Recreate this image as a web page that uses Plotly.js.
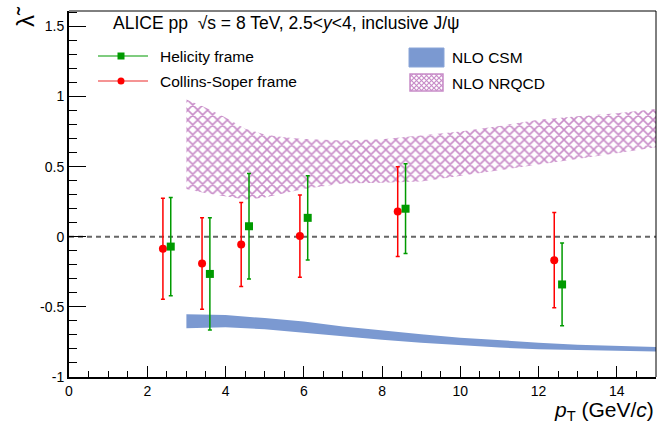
<!DOCTYPE html>
<html>
<head>
<meta charset="utf-8">
<script src="https://cdn.plot.ly/plotly-3.0.1.min.js"></script>
<style>html,body{margin:0;padding:0;background:#fff;}#chart{width:657px;height:425px;}</style>
</head>
<body>
<div id="chart"></div>
<script>
// ---- data ----
const pTHelicity = [2.6, 3.6, 4.6, 6.1, 8.6, 12.6];
const lamHelicity = [-0.07, -0.265, 0.075, 0.135, 0.20, -0.34];
const errHelicity = [0.35, 0.40, 0.377, 0.30, 0.32, 0.295];

const pTCS = [2.4, 3.4, 4.4, 5.9, 8.4, 12.4];
const lamCS = [-0.085, -0.19, -0.055, 0.005, 0.18, -0.167];
const errCS = [0.36, 0.326, 0.30, 0.293, 0.32, 0.34];

const csmX = [3, 4, 5, 6, 7, 8, 9, 10, 11, 12, 13, 14, 15];
const csmHigh = [-0.552, -0.557, -0.58, -0.605, -0.64, -0.67, -0.695, -0.72, -0.74, -0.755, -0.77, -0.78, -0.786];
const csmLow = [-0.652, -0.645, -0.66, -0.683, -0.71, -0.735, -0.755, -0.775, -0.79, -0.802, -0.81, -0.815, -0.819];

const nrqcdX = [3, 3.5, 4, 4.5, 5, 5.5, 6, 7, 8, 9, 10, 11, 12, 13, 14, 15];
const nrqcdHigh = [0.979, 0.92, 0.85, 0.77, 0.73, 0.71, 0.698, 0.686, 0.695, 0.72, 0.75, 0.79, 0.835, 0.86, 0.88, 0.912];
const nrqcdLow = [0.34, 0.31, 0.285, 0.265, 0.28, 0.31, 0.34, 0.38, 0.385, 0.395, 0.43, 0.47, 0.515, 0.555, 0.595, 0.638];

const yTickVals = [-1, -0.5, 0, 0.5, 1, 1.5];
const yTickText = ['-1', '-0.5', '0', '0.5', '1', '1.5'];
const xTickVals = [0, 2, 4, 6, 8, 10, 12, 14];
const xTickText = ['0', '2', '4', '6', '8', '10', '12', '14'];

// ---- layout helpers ----
const W = 657, H = 425;
const L = 69, R = 656, T = 11, B = 377;
const px = v => (v - L) / (R - L);
const py = v => (B - v) / (B - T);
const FONT = 'Liberation Sans, Arial, sans-serif';
const GREEN = '#009a00', RED = '#ff0000', BLUE = '#7b99d1', PINK = '#c88cc8';

function band(xs, hi, lo) {
  return { x: xs.concat(xs.slice().reverse()), y: hi.concat(lo.slice().reverse()) };
}
const nb = band(nrqcdX, nrqcdHigh, nrqcdLow);
const cb = band(csmX, csmHigh, csmLow);

const traces = [
  { type: 'scatter', mode: 'lines', x: nb.x, y: nb.y, fill: 'toself', fillcolor: 'rgba(0,0,0,0)',
    fillpattern: { shape: 'x', fgcolor: PINK, bgcolor: 'rgba(255,255,255,0)', size: 7, solidity: 0.4 },
    line: { width: 0, color: PINK }, hoverinfo: 'skip', showlegend: false },
  { type: 'scatter', mode: 'lines', x: cb.x, y: cb.y, fill: 'toself', fillcolor: BLUE,
    line: { width: 0, color: BLUE }, hoverinfo: 'skip', showlegend: false },
  { type: 'scatter', mode: 'markers', x: pTCS, y: lamCS, name: 'Collins-Soper frame',
    marker: { symbol: 'circle', size: 8, color: RED },
    error_y: { type: 'data', array: errCS, visible: true, color: RED, thickness: 1.5, width: 2 },
    showlegend: false },
  { type: 'scatter', mode: 'markers', x: pTHelicity, y: lamHelicity, name: 'Helicity frame',
    marker: { symbol: 'square', size: 8, color: GREEN },
    error_y: { type: 'data', array: errHelicity, visible: true, color: GREEN, thickness: 1.5, width: 2 },
    showlegend: false }
];

const hatchSvg = "<svg xmlns='http://www.w3.org/2000/svg' width='35' height='19'><defs><pattern id='p' width='5' height='5' patternUnits='userSpaceOnUse'><path d='M0,0L5,5M5,0L0,5' stroke='" + PINK + "' stroke-width='1.2'/></pattern></defs><rect x='1' y='1' width='33' height='17' fill='url(#p)' stroke='" + PINK + "' stroke-width='1.5'/></svg>";

const txt = (text, x, y, size, anchor) => ({
  text: text, xref: 'paper', yref: 'paper', x: px(x), y: py(y), xanchor: anchor || 'left', yanchor: 'middle',
  showarrow: false, font: { family: FONT, size: size || 15, color: '#000' }
});

const layout = {
  width: W, height: H,
  margin: { l: L, r: W - R, t: T, b: H - B, pad: 0 },
  paper_bgcolor: '#fff', plot_bgcolor: '#fff',
  showlegend: false,
  font: { family: FONT, color: '#000' },
  xaxis: {
    range: [0, 15], showgrid: false, zeroline: false, showline: true, linecolor: '#000', linewidth: 2,
    ticks: 'inside', ticklen: 11, tickwidth: 1, tickcolor: '#000',
    tickvals: xTickVals, ticktext: xTickText, tickfont: { family: FONT, size: 14, color: '#000' },
    minor: { dtick: 0.5, ticks: 'inside', ticklen: 6, tickcolor: '#000', tickwidth: 1, showgrid: false },
    automargin: false, fixedrange: true
  },
  yaxis: {
    range: [-1, 1.61], showgrid: false, zeroline: false, showline: true, linecolor: '#000', linewidth: 2,
    ticks: 'inside', ticklen: 17, tickwidth: 1, tickcolor: '#000',
    tickvals: yTickVals, ticktext: yTickText, tickfont: { family: FONT, size: 14, color: '#000' },
    minor: { dtick: 0.1, ticks: 'inside', ticklen: 8, tickcolor: '#000', tickwidth: 1, showgrid: false },
    automargin: false, fixedrange: true
  },
  shapes: [
    // frame top/right
    { type: 'line', xref: 'paper', yref: 'paper', x0: 0, x1: 1, y0: 1, y1: 1, line: { color: '#000', width: 1 } },
    { type: 'line', xref: 'paper', yref: 'paper', x0: 1, x1: 1, y0: 0, y1: 1, line: { color: '#000', width: 1 } },
    // zero reference line
    { type: 'line', xref: 'x', yref: 'y', x0: 0, x1: 15, y0: 0, y1: 0, layer: 'below',
      line: { color: '#666', width: 2, dash: '5px,4px' } },
    // legend symbols
    { type: 'line', xref: 'paper', yref: 'paper', x0: px(98), x1: px(148), y0: py(56), y1: py(56), line: { color: GREEN, width: 1.2 } },
    { type: 'rect', xref: 'paper', yref: 'paper', x0: px(117.5), x1: px(124.5), y0: py(52.5), y1: py(59.5), fillcolor: GREEN, line: { width: 0 } },
    { type: 'line', xref: 'paper', yref: 'paper', x0: px(98), x1: px(148), y0: py(81), y1: py(81), line: { color: '#f27070', width: 1.5 } },
    { type: 'circle', xref: 'paper', yref: 'paper', x0: px(117.5), x1: px(124.5), y0: py(77.5), y1: py(84.5), fillcolor: RED, line: { width: 0 } },
    { type: 'rect', xref: 'paper', yref: 'paper', x0: px(409), x1: px(444), y0: py(48), y1: py(67), fillcolor: BLUE, line: { color: '#8aa5d8', width: 1 } }
  ],
  images: [
    { source: 'data:image/svg+xml;charset=utf-8,' + encodeURIComponent(hatchSvg), xref: 'paper', yref: 'paper',
      x: px(409), y: py(73), sizex: px(444) - px(409), sizey: py(73) - py(92), sizing: 'stretch',
      xanchor: 'left', yanchor: 'top', layer: 'above' }
  ],
  annotations: [
    txt('ALICE pp\u00a0 √s = 8 TeV, 2.5&lt;<i>y</i>&lt;4, inclusive J/ψ', 111, 23, 17.5),
    txt('Helicity frame', 158, 56, 15.5),
    txt('Collins-Soper frame', 158, 81, 15.5),
    txt('NLO CSM', 450, 57, 15.5),
    txt('NLO NRQCD', 450, 83, 15.5),
    txt('<i>p</i><sub>T</sub> (GeV/<i>c</i>)', 656, 410.5, 21, 'right'),
    { text: 'λ̃', xref: 'paper', yref: 'paper', x: px(25), y: py(17), xanchor: 'center', yanchor: 'middle',
      textangle: -90, showarrow: false, font: { family: FONT, size: 24, color: '#000' } }
  ]
};

Plotly.newPlot('chart', traces, layout, { staticPlot: true, displayModeBar: false });
</script>
</body>
</html>
